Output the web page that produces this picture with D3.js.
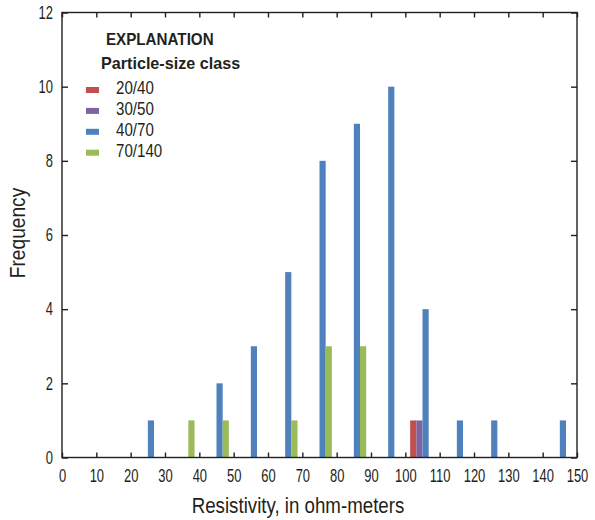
<!DOCTYPE html>
<html>
<head>
<meta charset="utf-8">
<script src="https://cdn.jsdelivr.net/npm/d3@7"></script>
<style>
  body { margin: 0; background: #fff; }
  svg { display: block; font-family: "Liberation Sans", Arial, sans-serif; }
</style>
</head>
<body>
<svg id="chart" width="595" height="520"></svg>
<script>
// bin centers (10 ohm-m wide bins)
const binCenters = [5, 15, 25, 35, 45, 55, 65, 75, 85, 95, 105, 115, 125, 135, 145]
const classes = ['20/40', '30/50', '40/70', '70/140']
const classColors = ['#c0504d', '#8064a2', '#4f81bd', '#9bbb59']

const freq2040 = [0, 0, 0, 0, 0, 0, 0, 0, 0, 0, 1, 0, 0, 0, 0]
const freq3050 = [0, 0, 0, 0, 0, 0, 0, 0, 0, 0, 1, 0, 0, 0, 0]
const freq4070 = [0, 0, 1, 0, 2, 3, 5, 8, 9, 10, 4, 1, 1, 0, 1]
const freq70140 = [0, 0, 0, 1, 1, 0, 1, 3, 3, 0, 0, 0, 0, 0, 0]

const xTicks = [0, 10, 20, 30, 40, 50, 60, 70, 80, 90, 100, 110, 120, 130, 140, 150]
const yTicks = [0, 2, 4, 6, 8, 10, 12]

const seriesValues = [freq2040, freq3050, freq4070, freq70140]

var margin = { left: 62, top: 12.5, right: 18, bottom: 62.5 },
  width = 595 - margin.left - margin.right,
  height = 520 - margin.top - margin.bottom

var ink = '#231f20'
// no condensed font installed, so squeeze glyphs horizontally
var tickSqueeze = 0.72

var svg = d3.select('#chart')
var g = svg
  .append('g')
  .attr('transform', 'translate(' + margin.left + ',' + margin.top + ')')

var x = d3.scaleLinear().domain([0, 150]).range([0, width])
var y = d3.scaleLinear().domain([0, 12]).range([height, 0])

// sub-bars inside each bin
var x1 = d3
  .scaleBand()
  .domain(classes)
  .range([x(-3.6) - x(0), x(3.6) - x(0)])
  .padding(0)

var color = d3.scaleOrdinal().domain(classes).range(classColors)

// bars
classes.forEach(function(cls, i) {
  var rows = binCenters.map(function(c, j) {
    return { center: c, value: seriesValues[i][j] }
  }).filter(function(d) { return d.value > 0 })

  g.append('g')
    .selectAll('rect')
    .data(rows)
    .enter()
    .append('rect')
    .attr('x', function(d) { return x(d.center) + x1(cls) })
    .attr('y', function(d) { return y(d.value) })
    .attr('width', x1.bandwidth())
    .attr('height', function(d) { return y(0) - y(d.value) })
    .attr('fill', color(cls))
})

// axes with inward ticks
function styleAxis(sel) {
  sel.select('.domain').remove()
  sel.selectAll('.tick line').attr('stroke', ink).attr('stroke-width', 1.4)
  sel.selectAll('.tick text')
    .attr('fill', ink)
    .attr('transform', 'scale(' + tickSqueeze + ',1)')
    .style('font-size', '18px')
}

g.append('g')
  .attr('transform', 'translate(0,' + height + ')')
  .call(d3.axisBottom(x).tickValues(xTicks).tickSizeInner(-5).tickSizeOuter(0).tickPadding(12))
  .call(styleAxis)

g.append('g')
  .call(d3.axisTop(x).tickValues(xTicks).tickSizeInner(-5).tickSizeOuter(0).tickFormat(''))
  .call(styleAxis)

g.append('g')
  .call(d3.axisLeft(y).tickValues(yTicks).tickSizeInner(-6).tickSizeOuter(0).tickPadding(9 / tickSqueeze))
  .call(styleAxis)

g.append('g')
  .attr('transform', 'translate(' + width + ',0)')
  .call(d3.axisRight(y).tickValues(yTicks).tickSizeInner(-6).tickSizeOuter(0).tickFormat(''))
  .call(styleAxis)

// frame
g.append('rect')
  .attr('width', width)
  .attr('height', height)
  .attr('fill', 'none')
  .attr('stroke', ink)
  .attr('stroke-width', 1.4)

function label(parent, transform, size, squeeze, txt, bold, anchor) {
  return parent.append('text')
    .attr('transform', transform + ' scale(' + squeeze + ',1)')
    .attr('text-anchor', anchor || 'start')
    .attr('fill', ink)
    .style('font-size', size + 'px')
    .style('font-weight', bold ? 'bold' : 'normal')
    .text(txt)
}

// axis titles
label(svg, 'translate(298,513)', 22, 0.85, 'Resistivity, in ohm-meters', false, 'middle')
label(svg, 'translate(25,233) rotate(-90)', 22, 0.87, 'Frequency', false, 'middle')

// legend
var legend = svg.append('g')
label(legend, 'translate(106,45)', 16.5, 0.92, 'EXPLANATION', true)
label(legend, 'translate(101,69)', 17, 0.95, 'Particle-size class', true)

var items = legend.selectAll('g.item')
  .data(classes)
  .enter()
  .append('g')
  .attr('class', 'item')
  .attr('transform', function(d, i) { return 'translate(0,' + (94 + i * 20.9) + ')' })

items.append('rect')
  .attr('x', 86).attr('y', -7)
  .attr('width', 13).attr('height', 6)
  .attr('fill', function(d) { return color(d) })

items.each(function(d) {
  label(d3.select(this), 'translate(116,0)', 18, 0.84, d, false)
})
</script>
</body>
</html>
